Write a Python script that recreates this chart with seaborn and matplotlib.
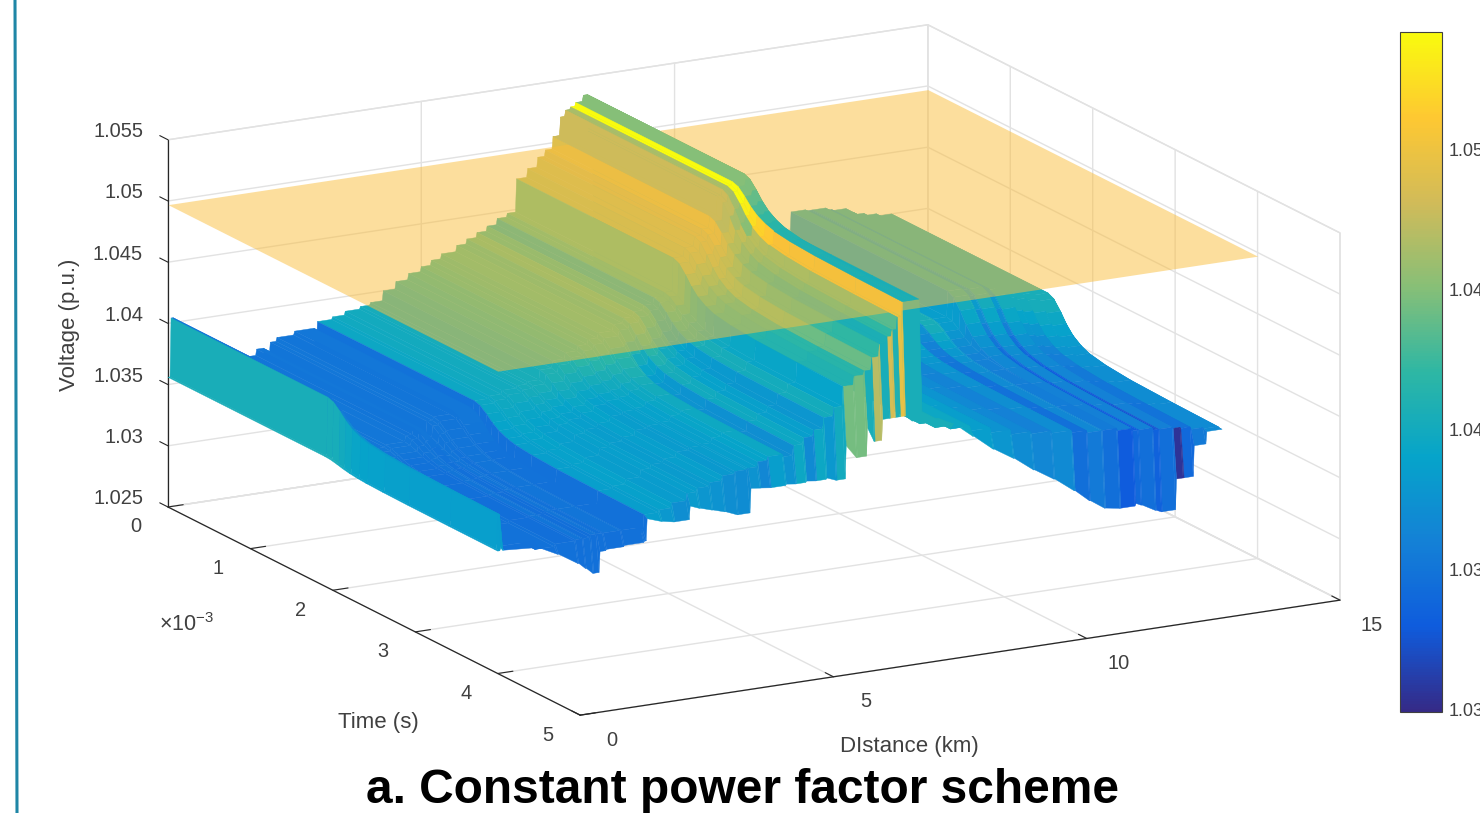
import numpy as np
import matplotlib
matplotlib.use("Agg")
import matplotlib.pyplot as plt
from matplotlib.colors import Normalize
from matplotlib.cm import ScalarMappable
from matplotlib.lines import Line2D
from mpl_toolkits.mplot3d import proj3d
import seaborn as sns

# ---- data (one value per strip along the feeder) ----
distance_km = [0.00, 0.06, 0.12, 0.80, 1.20, 1.60, 1.75, 1.90, 2.02, 2.15, 2.50, 2.90,
               2.95, 3.25, 3.50, 3.80, 4.00, 4.25, 4.50, 4.75, 5.00, 5.20, 5.40, 5.70, 5.90, 6.10, 6.30, 6.50, 6.70,
               6.88, 7.10, 7.30, 7.45, 7.60, 7.75, 7.85, 7.95, 8.05, 8.20, 8.30,
               8.40, 8.70, 9.00, 9.40, 9.80, 10.2, 10.6, 11.0, 11.4, 11.7, 12.0,
               12.3, 12.6, 12.72, 13.0, 13.12, 13.4, 13.55, 13.75, 14.0, 14.3]
v_start = [1.0356, 1.0404, 1.0356, 1.0356, 1.0358, 1.0363, 1.0368, 1.0362, 1.0372, 1.0375, 1.0378, 1.0364,
           1.0383, 1.0385, 1.0388, 1.0390, 1.0392, 1.0400, 1.0406, 1.0411, 1.0415, 1.0419, 1.0423, 1.0428, 1.0432, 1.0436, 1.0440, 1.0445, 1.0448,
           1.0475, 1.0482, 1.0490, 1.0495, 1.0505, 1.0520, 1.0525, 1.0527, 1.0530, 1.0535, 1.0505,
           1.0395, 1.0395, 1.0393, 1.0393, 1.0393, 1.0393, 1.0393, 1.0393, 1.0393, 1.0393, 1.0393,
           1.0414, 1.0413, 1.0413, 1.0411, 1.0410, 1.0406, 1.0404, 1.0402, 1.0400, 1.0398]
v_settled = [1.0350, 1.0378, 1.0352, 1.0345, 1.0347, 1.0348, 1.0348, 1.0350, 1.0350, 1.0350, 1.0350, 1.0347,
             1.0360, 1.0362, 1.0366, 1.0372, 1.0375, 1.0378, 1.0382, 1.0384, 1.0385, 1.0389, 1.0392, 1.0390, 1.0398, 1.0403, 1.0408, 1.0417, 1.0424,
             1.0440, 1.0447, 1.0450, 1.0460, 1.0470, 1.0475, 1.0480, 1.0490, 1.0502, 1.0502, 1.0502,
             1.0400, 1.0395, 1.0392, 1.0388, 1.0384, 1.0380, 1.0378, 1.0376, 1.0374, 1.0372, 1.0372,
             1.0370, 1.0368, 1.0368, 1.0366, 1.0366, 1.0365, 1.0364, 1.0362, 1.0361, 1.0360]
v_end = [1.0350, 1.0352, 1.0350, 1.0348, 1.0340, 1.0330, 1.0325, 1.0320, 1.0337, 1.0338, 1.0339, 1.0340,
         1.0358, 1.0354, 1.0352, 1.0363, 1.0360, 1.0357, 1.0354, 1.0350, 1.0370, 1.0369, 1.0368, 1.0369, 1.0368, 1.0369, 1.0368, 1.0369, 1.0366,
         1.0393, 1.0382, 1.0405, 1.0393, 1.0410, 1.0410, 1.0410, 1.0410, 1.0410, 1.0405, 1.0404,
         1.0404, 1.0404, 1.0398, 1.0385, 1.0372, 1.0362, 1.0350, 1.0340, 1.0328, 1.0318, 1.0310,
         1.0308, 1.0310, 1.0308, 1.0302, 1.0300, 1.0325, 1.0325, 1.0350, 1.0360, 1.0360]
tone_start = [1.0405, 1.0350, 1.0350, 1.0352, 1.0352, 1.0350, 1.0352, 1.0350, 1.0352, 1.0350, 1.0352, 1.0348,
              1.0395, 1.0398, 1.0400, 1.0403, 1.0405, 1.0410, 1.0415, 1.0420, 1.0425, 1.0428, 1.0430, 1.0428, 1.0435, 1.0425, 1.0410, 1.0430, 1.0438,
              1.0470, 1.0475, 1.0480, 1.0490, 1.0480, 1.0480, 1.0465, 1.0545, 1.0450, 1.0450, 1.0405,
              1.0410, 1.0410, 1.0405, 1.0400, 1.0400, 1.0405, 1.0385, 1.0405, 1.0375, 1.0405, 1.0385,
              1.0405, 1.0385, 1.0405, 1.0385, 1.0405, 1.0405, 1.0405, 1.0405, 1.0405, 1.0405]
tone_settled = [1.0385, 1.0385, 1.0348, 1.0348, 1.0345, 1.0350, 1.0345, 1.0350, 1.0347, 1.0350, 1.0347, 1.0347,
                1.0385, 1.0388, 1.0383, 1.0385, 1.0382, 1.0385, 1.0380, 1.0383, 1.0385, 1.0390, 1.0395, 1.0370, 1.0395, 1.0385, 1.0378, 1.0400, 1.0390,
                1.0410, 1.0415, 1.0440, 1.0420, 1.0405, 1.0420, 1.0435, 1.0500, 1.0405, 1.0405, 1.0405,
                1.0405, 1.0405, 1.0395, 1.0385, 1.0375, 1.0365, 1.0360, 1.0370, 1.0345, 1.0365, 1.0355,
                1.0358, 1.0330, 1.0360, 1.0325, 1.0358, 1.0348, 1.0348, 1.0368, 1.0368, 1.0368]
tone_end = [1.0385, 1.0385, 1.0347, 1.0347, 1.0347, 1.0346, 1.0347, 1.0346, 1.0347, 1.0346, 1.0347, 1.0347,
            1.0385, 1.0380, 1.0372, 1.0382, 1.0378, 1.0375, 1.0372, 1.0370, 1.0375, 1.0365, 1.0385, 1.0375, 1.0395, 1.0368, 1.0395, 1.0380, 1.0400,
            1.0445, 1.0445, 1.0405, 1.0470, 1.0405, 1.0485, 1.0410, 1.0495, 1.0405, 1.0405, 1.0405,
            1.0405, 1.0405, 1.0395, 1.0385, 1.0378, 1.0370, 1.0365, 1.0368, 1.0345, 1.0355, 1.0345,
            1.0330, 1.0340, 1.0345, 1.0335, 1.0345, 1.0305, 1.0340, 1.0355, 1.0368, 1.0368]
time_ms = [0, 1.9, 1.97, 2.05, 2.12, 2.2, 2.3, 2.4, 2.6, 2.9, 3.4, 3.96, 4.0]
settle_share = [0, 0, 0.06, 0.25, 0.45, 0.62, 0.75, 0.83, 0.9, 0.95, 0.98, 1.0]
plane_voltage = 1.0497
voltage_ticks = [1.025, 1.03, 1.035, 1.04, 1.045, 1.05, 1.055]
voltage_labels = ["1.025", "1.03", "1.035", "1.04", "1.045", "1.05", "1.055"]
time_ticks = [0, 1, 2, 3, 4, 5]
distance_ticks = [0, 5, 10, 15]
bar_ticks = [1.03, 1.035, 1.04, 1.045, 1.05]
bar_labels = ["1.03", "1.035", "1.04", "1.045", "1.05"]
parula = ["#352a87", "#0f5cdd", "#1481d6", "#06a4ca", "#2eb7a4", "#87bf77", "#d1bb59", "#fec832", "#f9fb0e"]

sns.set_theme(style="white")
plt.rcParams["font.family"] = ["Liberation Sans", "DejaVu Sans"]
plt.rcParams["mathtext.fontset"] = "custom"
plt.rcParams["mathtext.rm"] = "Liberation Sans"
plt.rcParams["mathtext.default"] = "regular"
INK = "#404040"
GRID = "#e2e2e2"
STEP = 0.02  # km taken by the riser between two neighbouring strips

cmap = sns.blend_palette(parula, n_colors=256, as_cmap=True)
norm = Normalize(1.0299, 1.0542)

W, H = 1480, 813
fig = plt.figure(figsize=(W / 100, H / 100), dpi=100, facecolor="white")
ax = fig.add_axes([0.1, 0.0, 0.6, 0.6 * W / H], projection="3d", proj_type="ortho", computed_zorder=False)
ax.set_box_aspect((866, 858, 382))
ax.view_init(elev=16.05, azim=-118.7)

d = np.array(distance_km)
t = np.array(time_ms)
share = np.array(settle_share)[:, None]
start, settled, end = map(np.array, (v_start, v_settled, v_end))
tone0, tone1, tone2 = map(np.array, (tone_start, tone_settled, tone_end))
Z = np.vstack([start + share * (settled - start), end])
C = np.vstack([(tone0 + share * (tone1 - tone0))[:-1], tone2])  # one tone per time cell
n = len(d)


def strip_surface(i, faces, order):
    # a flat strip from d[i] up to the riser, then the riser to the next strip's height.
    # The far end (last time row) falls along the strip and jumps back up, as a sawtooth.
    xs = np.array([d[i], d[i + 1] - STEP, d[i + 1]])
    X, Y = np.meshgrid(xs, t)
    middle = Z[:, i].copy()
    middle[-1] = min(Z[-1, i], Z[-1, i + 1])
    zs = np.column_stack([Z[:, i], middle, Z[:, i + 1]])
    ax.plot_surface(X, Y, zs, facecolors=faces, shade=False, rstride=1, cstride=1,
                    linewidth=0.3, antialiased=True, zorder=order)


for i in range(n - 2, -1, -1):
    strip_surface(i, np.repeat(cmap(norm(C[:, i]))[:, None, :], 2, axis=1), 10 + n - i)

ax.plot_surface(np.array([[0, 15], [0, 15]]), np.array([[0, 0], [4, 4]]), np.full((2, 2), plane_voltage),
                color=(250 / 255, 190 / 255, 60 / 255), alpha=0.5, shade=False, linewidth=0, zorder=500)

for i in range(n - 2, -1, -1):
    mean_here = (Z[:-1, i] + Z[1:, i]) / 2
    mean_next = (Z[:-1, i + 1] + Z[1:, i + 1]) / 2
    if (mean_here > plane_voltage).any():
        faces = np.repeat(cmap(norm(C[:, i]))[:, None, :], 2, axis=1)
        faces[:, 0, 3] = (mean_here > plane_voltage).astype(float)
        faces[:, 1, 3] = ((mean_here > plane_voltage) & (mean_next > plane_voltage)).astype(float)
        strip_surface(i, faces, 600 + n - i)

ax.set_xlim(0, 15, view_margin=0)
ax.set_ylim(5, 0, view_margin=0)
ax.set_zlim(1.025, 1.055, view_margin=0)
ax.set_xticks(distance_ticks)
ax.set_yticks(time_ticks)
ax.set_zticks(voltage_ticks)
ax.set_xticklabels([])
ax.set_yticklabels([])
ax.set_zticklabels([])
for axis in (ax.xaxis, ax.yaxis, ax.zaxis):
    axis.set_pane_color((1, 1, 1, 1))
    axis.pane.set_edgecolor(GRID)
    axis._axinfo["grid"].update(color=GRID, linewidth=1.0)
    axis._axinfo["axisline"]["color"] = INK
    axis._axinfo["tick"].update(color=INK, linewidth={True: 0.8, False: 0.8}, inward_factor=0.0, outward_factor=0.25)
    axis.line.set_linewidth(0.9)
ax.zaxis._get_tickdir = lambda pos: 1
ax.grid(True)


def project(px, py, pz):
    x2, y2, _ = proj3d.proj_transform(px, py, pz, ax.get_proj())
    return x2, y2


def to_pixels(px, py, pz):
    return ax.transData.transform(project(px, py, pz))


# scale and shift the square 3D axes so the box corners land where they do in the reference
fig.canvas.draw()
a = to_pixels(0, 0, 1.025)
b = to_pixels(15, 5, 1.025)
box = ax.get_position(original=False)
x0, y0, side = box.x0 * W, box.y0 * H, box.width * W
k = (1340 - 168) / (b[0] - a[0])
new_side = side * k
new_x0 = 168 - (a[0] - x0) * k
new_y0 = (H - 507) - (a[1] - y0) * k
ax.set_position([new_x0 / W, new_y0 / H, new_side / W, new_side / H])
fig.canvas.draw()


def tick_text(label, px, py, pz, dx, dy, ha="center"):
    ax.annotate(label, project(px, py, pz), xytext=(dx, dy), textcoords="offset pixels", ha=ha, va="center",
                fontsize=14.4, color=INK, annotation_clip=False, zorder=2000)


for v, s in zip(voltage_ticks, voltage_labels):
    tick_text(s, 0, 0, v, -25, 8, ha="right")
for v in time_ticks:
    tick_text(str(v), 0, v, 1.025, -32, -20)
for v in distance_ticks:
    tick_text(str(v), v, 5, 1.025, 32, -25)

fig.text(70 / W, 1 - 325 / H, "Voltage (p.u.)", rotation=90, ha="center", va="center", fontsize=16, color=INK)
fig.text(378 / W, 1 - 722 / H, "Time (s)", ha="center", va="center", fontsize=16, color=INK)
fig.text(909 / W, 1 - 746 / H, "DIstance (km)", ha="center", va="center", fontsize=16, color=INK)
fig.text(187 / W, 1 - 625 / H, r"$\times 10^{-3}$", ha="center", va="center", fontsize=15.5, color=INK)
fig.text(742 / W, 1 - 790 / H, "a. Constant power factor scheme", ha="center", va="center", fontsize=34.5,
         fontweight="bold", color="black")

cax = fig.add_axes([1400 / W, 1 - 712 / H, 42 / W, 680 / H])
cb = fig.colorbar(ScalarMappable(norm=norm, cmap=cmap), cax=cax)
cb.set_ticks(bar_ticks, labels=bar_labels)
cb.ax.tick_params(direction="in", length=7, width=0.8, color=INK, labelcolor=INK, labelsize=13, pad=5, right=True, left=False)
cb.outline.set_edgecolor(INK)
cb.outline.set_linewidth(0.8)

fig.add_artist(Line2D([15 / W, 17 / W], [1, 0], color="#1f86a6", linewidth=2.2))

fig.savefig("out.png", dpi=100, facecolor="white")
